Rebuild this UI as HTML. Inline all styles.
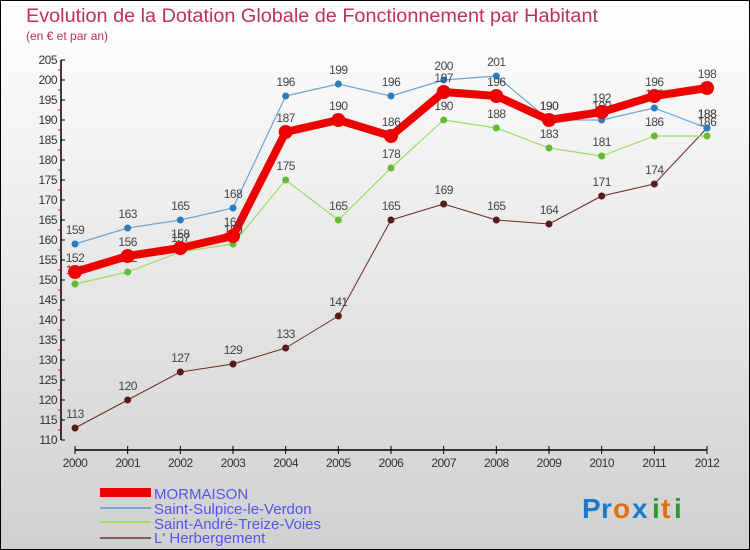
<!DOCTYPE html>
<html><head><meta charset="utf-8"><style>
body{margin:0}
#c{width:750px;height:550px;position:relative;overflow:hidden}
text{font-family:"Liberation Sans",sans-serif}
</style></head><body>
<div id="c">
<svg id="s" width="750" height="550" xmlns="http://www.w3.org/2000/svg">
<defs><linearGradient id="bg" x1="0" y1="0" x2="0" y2="1"><stop offset="0" stop-color="#ffffff"/><stop offset="1" stop-color="#d0d0d0"/></linearGradient></defs>
<rect x="0.5" y="0.5" width="749" height="549" fill="url(#bg)" stroke="#000"/>
<text x="26" y="22" font-size="19" fill="#c0305a" textLength="572" lengthAdjust="spacingAndGlyphs">Evolution de la Dotation Globale de Fonctionnement par Habitant</text>
<text x="26" y="40" font-size="12" fill="#c0305a">(en € et par an)</text>
<g id="axes"></g><g id="series"></g>
<g>
<rect x="100" y="488" width="51" height="9" fill="#e00"/>
<line x1="100" y1="508" x2="151" y2="508" stroke="#7aaad0" stroke-width="2"/>
<line x1="100" y1="522" x2="151" y2="522" stroke="#99dd66" stroke-width="2"/>
<line x1="100" y1="538" x2="151" y2="538" stroke="#8a5555" stroke-width="2"/>
<text x="154" y="499" font-size="15" fill="#5555ee">MORMAISON</text>
<text x="154" y="514" font-size="15" fill="#5555ee">Saint-Sulpice-le-Verdon</text>
<text x="154" y="529" font-size="15" fill="#5555ee">Saint-André-Treize-Voies</text>
<text x="154" y="543" font-size="15" fill="#5555ee">L' Herbergement</text>
</g>
<g font-size="28" font-weight="bold">
<text x="582" y="518" fill="#1a7acc">P</text><text x="601" y="518" fill="#1a7acc">r</text><text x="613" y="518" fill="#e07010">o</text><text x="632" y="518" fill="#1a7acc">x</text><text x="652" y="518" fill="#2a9a30">i</text><text x="661" y="518" fill="#e07010">t</text><text x="674" y="518" fill="#2a9a30">i</text>
</g>
</svg></div>
<script>
const years=[2000,2001,2002,2003,2004,2005,2006,2007,2008,2009,2010,2011,2012];
const mormaison=[152,156,158,161,187,190,186,197,196,190,192,196,198];
const sulpice=[159,163,165,168,196,199,196,200,201,190,190,193,188];
const andre=[149,152,157,159,175,165,178,190,188,183,181,186,186];
const herb=[113,120,127,129,133,141,165,169,165,164,171,174,188];
const yTicks=[110,115,120,125,130,135,140,145,150,155,160,165,170,175,180,185,190,195,200,205];
const NS="http://www.w3.org/2000/svg";
function X(i){return 75+i*(707-75)/12;}
function Y(v){return 440-(v-110)*4;}
function mk(p,t,a){const e=document.createElementNS(NS,t);for(const k in a)e.setAttribute(k,a[k]);p.appendChild(e);return e;}
const ax=document.getElementById('axes');
let e=mk(ax,'line',{x1:61,y1:Y(205),x2:61,y2:Y(110),stroke:'#000','stroke-width':1.5});


e=mk(ax,'line',{x1:75,y1:450,x2:707,y2:450,stroke:'#000','stroke-width':1.5});


yTicks.forEach((v,i)=>{
 mk(ax,'line',{x1:61,y1:Y(v),x2:65,y2:Y(v),stroke:'#000'});
 if(i<yTicks.length-1) mk(ax,'line',{x1:58,y1:Y(v+2.5),x2:61,y2:Y(v+2.5),stroke:'#e00'});
 const t=mk(ax,'text',{x:57,y:Y(v)+4,'font-size':12,fill:'#333','text-anchor':'end','letter-spacing':'-0.5'});
 t.textContent=v;
 
 
});
years.forEach((yr,i)=>{
 mk(ax,'line',{x1:X(i),y1:446,x2:X(i),y2:454,stroke:'#000'});
 const t=mk(ax,'text',{x:X(i),y:467,'font-size':12,fill:'#333','text-anchor':'middle','letter-spacing':'-0.5'});
 t.textContent=yr;
 
 
});
const sg=document.getElementById('series');
function draw(vals,col,dot,w,r,name){
 const g=mk(sg,'g',{});
 
 
 mk(g,'polyline',{points:vals.map((v,i)=>X(i)+','+Y(v)).join(' '),fill:'none',stroke:col,'stroke-width':w,'stroke-linejoin':'round'});
 vals.forEach((v,i)=>{
  const c=mk(g,'circle',{cx:X(i),cy:Y(v),r:r,fill:dot});
  
  
  const t=mk(g,'text',{x:X(i),y:Y(v)-10,'font-size':12,fill:'#444','text-anchor':'middle','letter-spacing':'-0.5'});
  t.textContent=v;
  
  
 });
}
draw(herb,'#6b2a2a','#5a1a1a',1,3.5,'series-herbergement');
draw(andre,'#99dd66','#66bb33',1.2,3.5,'series-saint-andre');
draw(sulpice,'#6aa6d6','#2a7ec0',1.2,3.5,'series-saint-sulpice');
draw(mormaison,'#ee0000','#ee0000',8,7,'series-mormaison');
</script>
</body></html>
